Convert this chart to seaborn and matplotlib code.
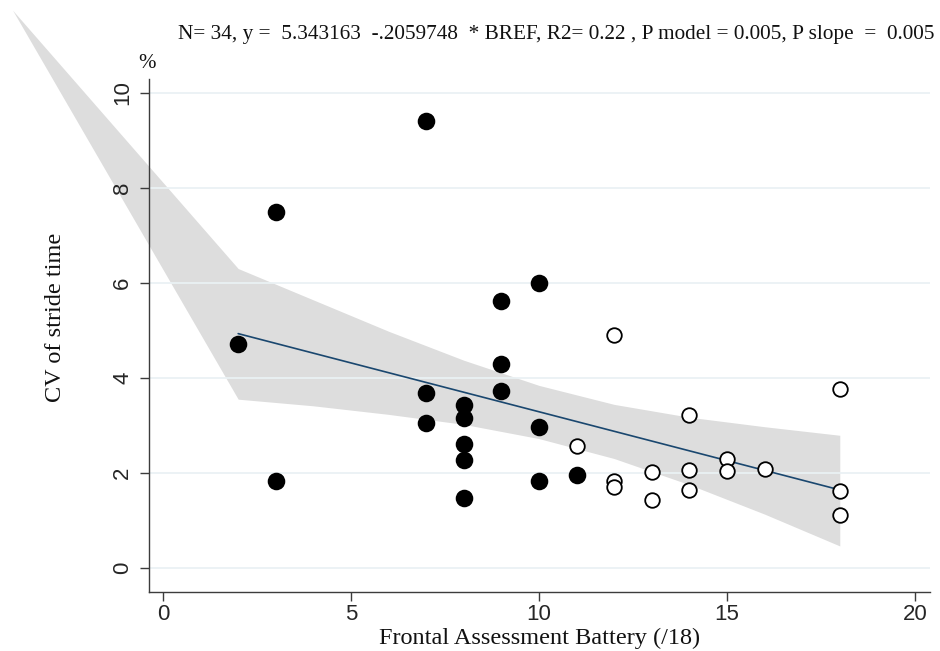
import numpy as np
import pandas as pd
import matplotlib.pyplot as plt
import seaborn as sns

# --- Data ---
# filled markers
filled_fab = [2, 3, 3, 7, 7, 7, 8, 8, 8, 8, 8, 9, 9, 9, 10, 10, 10, 11]
filled_cv = [4.72, 7.49, 1.83, 9.41, 3.69, 3.05, 3.42, 3.15, 2.60, 2.27, 1.46,
             5.61, 4.29, 3.72, 5.99, 2.97, 1.83, 1.95]
# open markers
open_fab = [11, 12, 12, 12, 13, 13, 14, 14, 14, 15, 15, 16, 18, 18, 18]
open_cv = [2.56, 4.91, 1.83, 1.71, 2.01, 1.43, 3.21, 2.05, 1.64, 2.28, 2.04,
           2.09, 3.76, 1.62, 1.12]

# fitted line and its confidence band (band polygon includes Stata's stray apex)
fit_fab = [2, 18]
fit_cv = [4.93, 1.64]
ci_fab = [-4.0, 2, 4, 6, 8, 10, 12, 14, 16, 18]
ci_lo = [11.74, 3.55, 3.41, 3.23, 3.02, 2.72, 2.30, 1.75, 1.13, 0.46]
ci_hi = [11.74, 6.30, 5.64, 4.98, 4.37, 3.84, 3.44, 3.17, 2.97, 2.79]

x_ticks = [0, 5, 10, 15, 20]
y_ticks = [0, 2, 4, 6, 8, 10]

title = ("N= 34, y =  5.343163  -.2059748  * BREF, R2= 0.22 , "
         "P model = 0.005, P slope  =  0.005")

df_filled = pd.DataFrame({"fab": filled_fab, "cv": filled_cv})
df_open = pd.DataFrame({"fab": open_fab, "cv": open_cv})

# --- Plot ---
sns.set_theme(style="white")
serif = ["Liberation Serif", "DejaVu Serif"]
sans = ["Liberation Sans", "DejaVu Sans"]

fig = plt.figure(figsize=(9.4, 6.51), dpi=100)
ax = fig.add_axes([0.1585, 0.0906, 0.8309, 0.788])

ax.fill_between(ci_fab, ci_lo, ci_hi, color="#dddddd", lw=0, zorder=1,
                clip_on=False)
sns.lineplot(x=fit_fab, y=fit_cv, color="#1a476f", lw=1.2, ax=ax, zorder=3)
sns.scatterplot(data=df_filled, x="fab", y="cv", color="black", s=160,
                linewidth=0, ax=ax, zorder=4)
sns.scatterplot(data=df_open, x="fab", y="cv", facecolor="white",
                edgecolor="black", s=110, linewidth=1.3, ax=ax, zorder=4)

ax.set_xlim(-0.372, 20.40)
ax.set_ylim(-0.51, 10.29)
ax.set_xticks(x_ticks)
ax.set_yticks(y_ticks)
ax.grid(axis="y", color="#eaf1f4", lw=1.3)
# tick labels must sit above the band that spills past the axis
ax.set_axisbelow("line")

for side in ["top", "right"]:
    ax.spines[side].set_visible(False)
for side in ["left", "bottom"]:
    ax.spines[side].set_color("#3c3c3c")
    ax.spines[side].set_linewidth(1.0)

ax.tick_params(axis="both", direction="out", length=6.5, width=1.0,
               color="#3c3c3c", left=True, bottom=True, labelsize=16)
ax.tick_params(axis="x", pad=2)
ax.tick_params(axis="y", pad=5)
for lab in ax.get_yticklabels():
    lab.set_rotation(90)
    lab.set_va("center")
    lab.set_ha("right")
    lab.set_family(sans)
for lab in ax.get_xticklabels():
    lab.set_family(sans)

ax.set_xlabel("Frontal Assessment Battery (/18)", family=serif, fontsize=17.5,
              color="#111111")
ax.set_ylabel("CV of stride time", family=serif, fontsize=17.5,
              color="#111111")
ax.xaxis.set_label_coords(0.5, -0.070)
ax.yaxis.set_label_coords(-0.106, 0.535)

fig.text(935 / 940, 1 - 34 / 651, title, ha="right", va="center",
         family=serif, fontsize=15.35, color="#111111")
fig.text(147 / 940, 1 - 63 / 651, "%", ha="center", va="center",
         family=serif, fontsize=15, color="#111111")

plt.savefig("out.png", dpi=100)
plt.close()
